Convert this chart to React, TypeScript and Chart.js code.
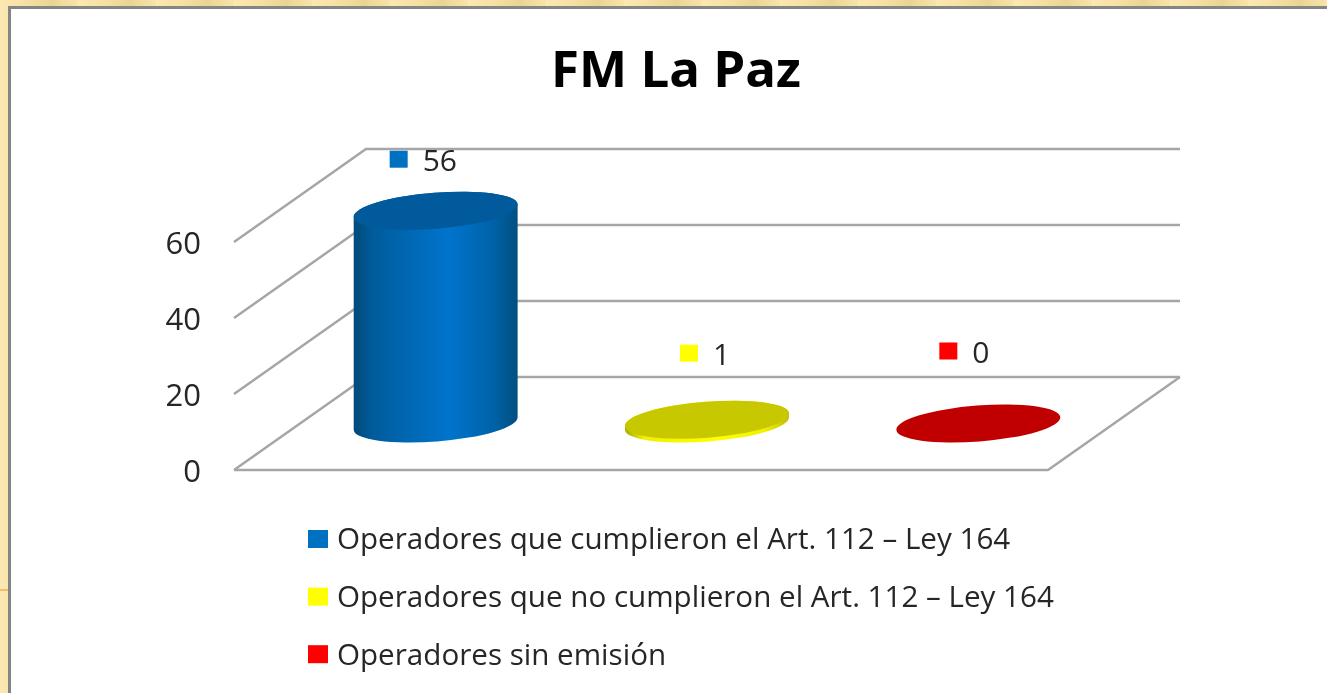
import React, { useEffect, useRef } from "react";
import { Chart, registerables } from "chart.js";

Chart.register(...registerables);

const titleText = "FM La Paz";
const categories = [""];
const seriesNames = [
  "Operadores que cumplieron el Art. 112 – Ley 164",
  "Operadores que no cumplieron el Art. 112 – Ley 164",
  "Operadores sin emisión",
];
const seriesValues = [56, 1, 0];
const yTicks = [0, 20, 40, 60];
const swatchColors = ["#0070c0", "#ffff00", "#ff0000"];
const topColors = ["#005a9c", "#c8c800", "#c00000"];
const sideStops = [
  ["#004a78", "#005c9c", "#0074cc", "#0062a8", "#004f80"],
  ["#a8a800", "#f0f000", "#ffff00", "#f0f000", "#c0c000"],
  ["#900000", "#e00000", "#ff0000", "#e00000", "#a00000"],
];
const stopPositions = [0, 0.12, 0.58, 0.85, 1];

const FONT = '"Open Sans", sans-serif';
const TEXT = "#262626";
const DEPTH_X = 132;
const DEPTH_Y = 93;
const labelOffsets = [
  { x: -37, y: -52 },
  { x: -18, y: -67 },
  { x: -30, y: -73 },
];

const wallPlugin = {
  id: "walls",
  beforeDatasetsDraw(chart: any) {
    const { ctx, chartArea, scales } = chart;
    const y = scales.y;
    ctx.save();
    ctx.strokeStyle = "#a6a6a6";
    ctx.lineWidth = 2.5;
    yTicks.forEach((t) => {
      const py = y.getPixelForValue(t);
      ctx.beginPath();
      ctx.moveTo(chartArea.left, py);
      ctx.lineTo(chartArea.left + DEPTH_X, py - DEPTH_Y);
      ctx.lineTo(chartArea.right + DEPTH_X, py - DEPTH_Y);
      ctx.stroke();
    });
    ctx.beginPath();
    ctx.moveTo(chartArea.left, chartArea.bottom);
    ctx.lineTo(chartArea.right, chartArea.bottom);
    ctx.lineTo(chartArea.right + DEPTH_X, chartArea.bottom - DEPTH_Y);
    ctx.stroke();
    ctx.restore();
  },
};

const cylinderPlugin = {
  id: "cylinders",
  beforeDatasetDraw(chart: any, args: any) {
    const { ctx } = chart;
    const i = args.index;
    const bar = chart.getDatasetMeta(i).data[0];
    const cx = bar.x + DEPTH_X / 2;
    const rx = bar.width * 0.303;
    const ry = 18;
    const rot = (-4.5 * Math.PI) / 180;
    const yB = bar.base - DEPTH_Y / 2;
    const yT = bar.y - DEPTH_Y / 2;
    ctx.save();
    if (yB - yT > 0.5) {
      const g = ctx.createLinearGradient(cx - rx, 0, cx + rx, 0);
      sideStops[i].forEach((c, k) => g.addColorStop(stopPositions[k], c));
      ctx.fillStyle = g;
      ctx.beginPath();
      ctx.ellipse(cx, yB, rx, ry, rot, 0, Math.PI);
      ctx.ellipse(cx, yT, rx, ry, rot, Math.PI, Math.PI * 2);
      ctx.closePath();
      ctx.fill();
    }
    ctx.fillStyle = topColors[i];
    ctx.beginPath();
    ctx.ellipse(cx, yT, rx, ry, rot, 0, Math.PI * 2);
    ctx.fill();
    // value label with its key swatch
    const lx = cx + labelOffsets[i].x;
    const ly = yT + labelOffsets[i].y;
    ctx.fillStyle = swatchColors[i];
    ctx.fillRect(lx - 9, ly - 8, 18, 17);
    ctx.fillStyle = TEXT;
    ctx.font = `30px ${FONT}`;
    ctx.textAlign = "left";
    ctx.textBaseline = "middle";
    ctx.fillText(String(seriesValues[i]), lx + 24, ly + 4);
    ctx.restore();
    return false;
  },
};

const legendPlugin = {
  id: "stackedLegend",
  afterDraw(chart: any) {
    const { ctx } = chart;
    ctx.save();
    ctx.textBaseline = "middle";
    ctx.textAlign = "left";
    ctx.font = `29.6px ${FONT}`;
    chart.data.datasets.forEach((ds: any, i: number) => {
      const y = 539 + i * 57.6;
      ctx.fillStyle = ds.backgroundColor;
      ctx.fillRect(308, y - 9, 20, 18);
      ctx.fillStyle = TEXT;
      ctx.fillText(ds.label, 337, y + 2);
    });
    ctx.restore();
  },
};

export default function App() {
  const ref = useRef<HTMLCanvasElement>(null);
  useEffect(() => {
    document.body.style.margin = "0";
    document.body.style.overflow = "hidden";
    const chart = new Chart(ref.current as HTMLCanvasElement, {
      type: "bar",
      data: {
        labels: categories,
        datasets: seriesNames.map((name, i) => ({
          label: name,
          data: [seriesValues[i]],
          backgroundColor: swatchColors[i],
          categoryPercentage: 1,
          barPercentage: 1,
        })),
      },
      options: {
        responsive: false,
        animation: false,
        layout: { padding: { left: 0, right: 0, top: 0, bottom: 223 } },
        plugins: {
          legend: { display: false },
          tooltip: { enabled: false },
          title: {
            display: true,
            text: titleText,
            color: "#000000",
            font: { family: FONT, size: 51, weight: "bold", lineHeight: 1.2 },
            padding: { top: 42, bottom: 138.8 },
          },
        },
        scales: {
          x: { display: false },
          y: {
            min: 0,
            max: 60,
            afterFit(scale: any) {
              scale.width = 234;
            },
            grid: { display: false, drawTicks: false },
            border: { display: false },
            ticks: {
              stepSize: 20,
              padding: 33,
              labelOffset: 3,
              color: TEXT,
              font: { family: FONT, size: 31 },
            },
          },
          rightSpace: {
            position: "right",
            min: 0,
            max: 60,
            afterFit(scale: any) {
              scale.width = 304;
            },
            grid: { display: false, drawTicks: false },
            border: { display: false },
            ticks: { display: false },
          },
        },
      },
      plugins: [wallPlugin, cylinderPlugin, legendPlugin],
    } as any);
    return () => chart.destroy();
  }, []);

  return (
    <div
      style={{
        position: "relative",
        width: 1327,
        height: 693,
        overflow: "hidden",
        background:
          "repeating-linear-gradient(90deg,#fbe8b2 0px,#f6e0a4 26px,#e9d592 52px,#f8e4aa 78px)",
      }}
    >
      <div style={{ position: "absolute", left: 0, top: 589, width: 8, height: 2, background: "#f0bd6c" }} />
      <div
        style={{
          position: "absolute",
          left: 8,
          top: 6,
          width: 1340,
          height: 720,
          background: "#ffffff",
          borderLeft: "3px solid #858585",
          borderTop: "3px solid #858585",
        }}
      />
      <canvas ref={ref} width={1352} height={693} style={{ position: "absolute", left: 0, top: 0, display: "block" }} />
    </div>
  );
}
